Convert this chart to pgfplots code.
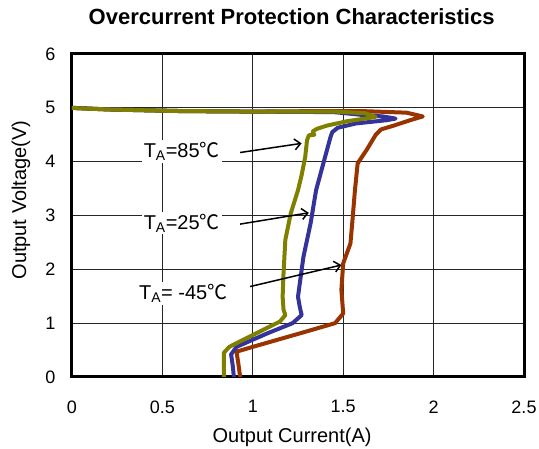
\documentclass[border=0pt]{standalone}
\usepackage{fontspec}
\setmainfont{Liberation Sans}
\newfontfamily\cjk{Noto Sans CJK SC}
\usepackage{pgfplots}
\pgfplotsset{compat=1.18}
\usetikzlibrary{arrows.meta}

\definecolor{cOlive}{RGB}{128,128,0}
\definecolor{cBlue}{RGB}{51,51,153}
\definecolor{cRust}{RGB}{153,51,0}

\begin{document}
\begin{tikzpicture}
\useasboundingbox (-72pt,-72pt) rectangle (467pt,377pt);
\begin{axis}[
    scale only axis,
    width=452pt, height=323pt,
    at={(0,0)}, anchor=south west,
    xmin=0, xmax=2.5, ymin=0, ymax=6,
    xtick={0,0.5,1,1.5,2,2.5},
    ytick={0,1,2,3,4,5,6},
    grid=major,
    major grid style={line width=0.8pt, black!85},
    axis line style={line width=3pt},
    major tick length=0pt,
    /pgf/number format/assume math mode=true,
    tick label style={font=\fontsize{18}{20}\selectfont},
    xticklabel style={yshift=-20pt},
    yticklabel style={xshift=-13pt},
    title={Overcurrent Protection Characteristics},
    title style={font=\bfseries\fontsize{22}{26}\selectfont,
        at={(axis description cs:0.486,1.096)}, anchor=center},
    xlabel={Output Current(A)},
    ylabel={Output Voltage(V)},
    label style={font=\fontsize{20}{24}\selectfont},
    xlabel style={at={(axis description cs:0.487,-0.186)}, anchor=center},
    ylabel style={at={(axis description cs:-0.113,0.548)}, anchor=center, rotate=0},
    every axis plot/.append style={line width=4pt, line join=round, line cap=round},
]
% T_A = -45 C
\addplot[cRust] coordinates {
(0,5.0) (0.2,4.97) (0.6,4.94) (1.0,4.93) (1.4,4.94) (1.6,4.94) (1.85,4.91)
(1.94,4.84) (1.87,4.77)
(1.78,4.67) (1.71,4.60) (1.68,4.50) (1.63,4.22) (1.58,3.97) (1.565,3.47)
(1.55,2.86) (1.54,2.48) (1.50,2.11) (1.49,1.62) (1.50,1.18) (1.455,1.0)
(1.26,0.81) (1.00,0.56) (0.91,0.47) (0.92,0.25) (0.93,0)
};
% T_A = 25 C
\addplot[cBlue] coordinates {
(0,5.0) (0.2,4.97) (0.6,4.94) (1.0,4.93) (1.45,4.92) (1.6,4.87) (1.72,4.84)
(1.79,4.80) (1.74,4.77)
(1.57,4.71) (1.47,4.63) (1.44,4.55) (1.43,4.46) (1.40,4.09) (1.35,3.47)
(1.32,2.86) (1.28,2.23) (1.26,1.74) (1.25,1.49) (1.26,1.30) (1.27,1.15)
(1.22,1.0) (1.08,0.81) (0.91,0.56) (0.88,0.42) (0.89,0.19) (0.895,0)
};
% T_A = 85 C
\addplot[cOlive] coordinates {
(-0.03,5.0) (0.2,4.97) (0.6,4.94) (1.0,4.93) (1.45,4.93) (1.62,4.90) (1.68,4.83)
(1.60,4.79) (1.52,4.75) (1.41,4.67) (1.355,4.61) (1.33,4.56) (1.34,4.50)
(1.31,4.49) (1.30,4.40) (1.29,4.09) (1.27,3.75) (1.25,3.47) (1.21,3.04)
(1.18,2.55) (1.17,1.93) (1.165,1.49) (1.17,1.25) (1.18,1.15) (1.15,1.03)
(1.00,0.78) (0.87,0.56) (0.84,0.45) (0.84,0)
};

\begin{scope}[font=\fontsize{20}{24}\selectfont]
\node[fill=white, inner sep=2pt] at (axis cs:0.607,4.19) {T\textsubscript{A}=85{\cjk ℃}};
\node[fill=white, inner sep=2pt] at (axis cs:0.607,2.86) {T\textsubscript{A}=25{\cjk ℃}};
\node[fill=white, inner sep=2pt] at (axis cs:0.615,1.55) {T\textsubscript{A}= -45{\cjk ℃}};
\end{scope}
\draw[line width=1.5pt, -{Straight Barb[length=6pt,width=11pt]}] (axis cs:0.93,4.17) -- (axis cs:1.27,4.34);
\draw[line width=1.5pt, -{Straight Barb[length=6pt,width=11pt]}] (axis cs:0.93,2.84) -- (axis cs:1.31,3.05);
\draw[line width=1.5pt, -{Straight Barb[length=6pt,width=11pt]}] (axis cs:0.985,1.68) -- (axis cs:1.49,2.08);
\end{axis}
\end{tikzpicture}
\end{document}
